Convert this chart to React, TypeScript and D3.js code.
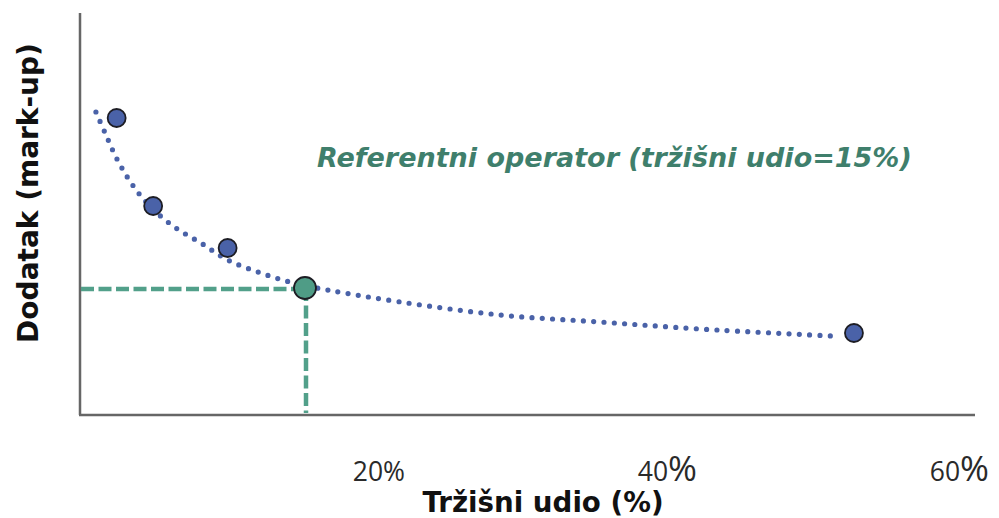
import React from "react";
import * as d3 from "d3";

// ---- data ----
const firmShares = [2.1, 4.6, 9.7, 52.6]; // market share (%)
const firmMarkups = [74.25, 52.25, 41.75, 20.5]; // mark-up (relative units)
const refShare = 15;
const refMarkup = 31.75;
const trendShares = [0.68, 1.37, 2.05, 2.87, 3.76, 4.79, 6.16, 7.87, 9.71, 11.97, 14.23, 16.56, 21.55, 28.39, 35.23, 42.07, 51.1];
const trendMarkups = [75.75, 70, 64.5, 59.25, 54.75, 50.75, 46.75, 43, 38.75, 35.5, 33, 31.25, 28.25, 25, 23.25, 21.5, 19.75];
const tickValues = [20, 40, 60];
const tickDigits = ["20", "40", "60"];
const tickBigPercent = [false, true, true];
const xTitle = "Tržišni udio (%)";
const yTitle = "Dodatak (mark-up)";
const annotation = "Referentni operator (tržišni udio=15%)";

const W = 999;
const H = 518;
const axisLeft = 80;
const axisBottom = 415;
const axisTop = 13;
const axisRight = 975;

export default function App() {
  const x = d3.scaleLinear().domain([0, 60]).range([86, 962]);
  const y = d3.scaleLinear().domain([0, 100]).range([415, 15]);

  const trend = trendShares.map((s, i) => [s, trendMarkups[i]] as [number, number]);
  const line = d3
    .line<[number, number]>()
    .x((d) => x(d[0]))
    .y((d) => y(d[1]))
    .curve(d3.curveCatmullRom.alpha(0.5));

  const green = "#52a08a";
  const blue = "#4a62a8";

  return (
    <svg
      width={W}
      height={H}
      style={{ position: "absolute", left: 0, top: 0, background: "#fff" }}
      fontFamily="'DejaVu Sans', Verdana, sans-serif"
    >
      <rect width={W} height={H} fill="#fff" />
      {/* axes */}
      <line x1={axisLeft} y1={axisTop} x2={axisLeft} y2={axisBottom} stroke="#666" strokeWidth={2.5} />
      <line x1={axisLeft - 1} y1={axisBottom} x2={axisRight} y2={axisBottom} stroke="#666" strokeWidth={2.5} />

      {/* dotted trend */}
      <path
        d={line(trend) || ""}
        fill="none"
        stroke={blue}
        strokeWidth={5.2}
        strokeLinecap="round"
        strokeDasharray="0 10.3"
      />

      {/* reference dashed guides */}
      <line
        x1={axisLeft + 1}
        y1={y(refMarkup) + 1}
        x2={x(refShare)}
        y2={y(refMarkup) + 1}
        stroke={green}
        strokeWidth={4.5}
        strokeDasharray="13 4.5"
      />
      <line
        x1={x(refShare) + 1}
        y1={y(refMarkup)}
        x2={x(refShare) + 1}
        y2={axisBottom - 2}
        stroke={green}
        strokeWidth={4.5}
        strokeDasharray="13 4.5"
      />

      {/* firm points */}
      {firmShares.map((s, i) => (
        <circle key={i} cx={x(s)} cy={y(firmMarkups[i])} r={9} fill={blue} stroke="#1d1d24" strokeWidth={1.8} />
      ))}
      <circle cx={x(refShare)} cy={y(refMarkup)} r={11} fill="#4f9c86" stroke="#1d1d24" strokeWidth={1.8} />

      {/* annotation */}
      <text x={317} y={167} fontSize={27} fontWeight="bold" fontStyle="italic" fill="#3f7f6c">
        {annotation}
      </text>

      {/* tick labels */}
      {tickValues.map((v, i) => (
        <text
          key={v}
          x={x(v) + 27}
          y={481}
          textAnchor="end"
          fontFamily="'Open Sans', sans-serif"
          fontSize={26.5}
          fill="#2a2a2a"
        >
          {tickDigits[i]}
          <tspan fontSize={tickBigPercent[i] ? 35 : 26.5}>%</tspan>
        </text>
      ))}

      {/* axis titles */}
      <text x={543} y={512} textAnchor="middle" fontSize={27.7} fontWeight="bold" fill="#111">
        {xTitle}
      </text>
      <text
        transform={`translate(38,193) rotate(-90)`}
        textAnchor="middle"
        fontSize={28}
        fontWeight="bold"
        fill="#111"
      >
        {yTitle}
      </text>
    </svg>
  );
}
